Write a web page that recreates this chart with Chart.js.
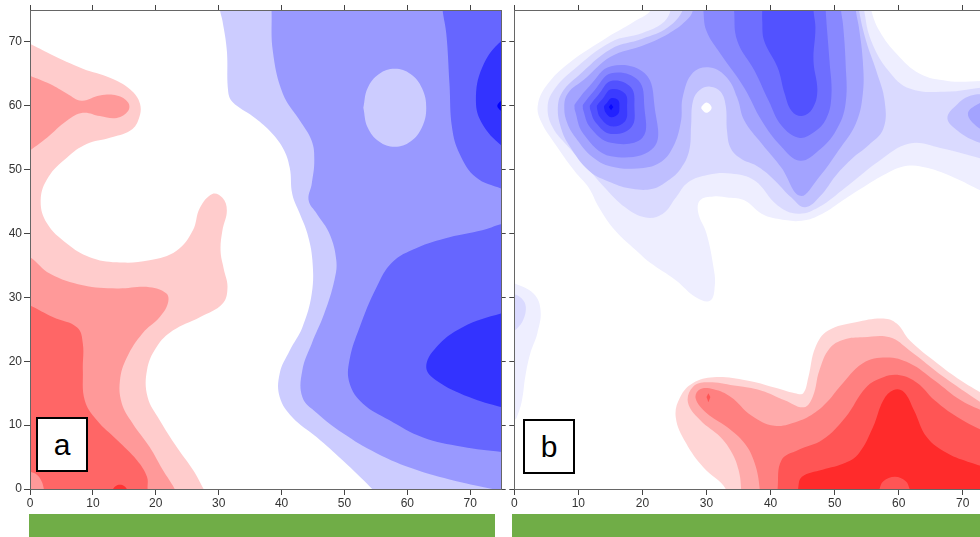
<!DOCTYPE html>
<html lang="fr">
<head>
<meta charset="utf-8">
<title>Contours a / b</title>
<script src="https://cdn.jsdelivr.net/npm/chart.js@4.4.1/dist/chart.umd.min.js"></script>
<style>
  html, body { margin: 0; padding: 0; background: #fff; overflow: hidden; }
  #page { position: relative; width: 980px; height: 537px; overflow: hidden; }
  canvas { position: absolute; top: 0; }
  #chart-a { left: 0; width: 508px; height: 537px; }
  #chart-b { left: 508px; width: 492px; height: 537px; }
  .green-bar { position: absolute; top: 514px; height: 23px; background: #70AD47; }
  .panel-tag { position: absolute; box-sizing: border-box; border: 2px solid #000; background: #fff;
               font: 30px "Liberation Sans", Arial, sans-serif; color: #000;
               display: flex; align-items: center; justify-content: center; z-index: 2; }
</style>
</head>
<body>
<div id="page">
  <canvas id="chart-a" width="508" height="537"></canvas>
  <canvas id="chart-b" width="492" height="537"></canvas>
  <div class="green-bar" style="left:29px;width:466px"></div>
  <div class="green-bar" style="left:512px;width:468px"></div>
  <div class="panel-tag" style="left:36px;top:417px;width:52px;height:55px">a</div>
  <div class="panel-tag" style="left:523px;top:419px;width:52px;height:55px">b</div>
</div>
<script>
// --- DONNÉES : graduations et couleurs ---
const tickValues = [0, 10, 20, 30, 40, 50, 60, 70];
const redA = ['#FFCCCC', '#FF9999', '#FF6666', '#FF3333'];
const blueA = ['#CCCCFF', '#9999FF', '#6666FF', '#3333FF', '#0000FF'];
const redB = ['#FFD5D5', '#FFAAAA', '#FF8080', '#FF5555', '#FF2B2B'];
const blueB = ['#EEEEFF', '#DADAFF', '#BFBFFF', '#A3A3FF', '#8888FF', '#6E6EFF', '#5252FF', '#3B3BFF', '#2222FF', '#0808FF'];

// --- PANNEAU a : contours (x, y) ---
const aRed1 = [[-2,70.5],[0,69.7],[3.2,68.1],[8.4,65.8],[12.7,64.4],[15.9,62.6],[17.5,60.3],[17.2,57.7],[15.9,56.1],[12.7,55.0],[9.0,54.0],[5.9,51.9],[2.9,48.8],[1.7,45.2],[2.7,41.6],[5.9,38.4],[9.5,36.3],[13.8,35.5],[19.0,35.8],[23.3,37.3],[25.9,40.5],[27.0,44.0],[29.0,46.2],[30.6,45.6],[31.3,43.6],[30.6,40.5],[30.3,37.3],[30.8,34.5],[31.4,31.6],[30.6,29.0],[27.0,26.9],[22.7,24.8],[20.1,22.2],[18.6,18.6],[18.7,14.4],[20.6,10.8],[23.3,6.6],[25.9,3.0],[27.6,0],[28.6,-2],[-3,-3],[-2,70.5]];
const aRed2Top = [[-2,65.5],[0,64.7],[3.2,63.4],[5.9,61.9],[8.2,60.8],[11.1,61.6],[13.8,61.6],[15.6,60.5],[15.6,59.2],[13.8,58.1],[11.1,58.4],[8.4,58.9],[5.9,57.7],[2.7,55.0],[0,53.0],[-2,51.5],[-3,58],[-2,65.5]];
const aRed2Bottom = [[-2,37],[0,36.3],[3.2,33.7],[8.4,31.9],[13.8,31.4],[19.0,31.6],[21.7,30.6],[21.9,29.0],[20.6,26.9],[17.9,24.4],[15.4,20.6],[14.3,17.0],[14.6,13.4],[16.3,10.3],[19.0,6.6],[21.1,3.0],[23.0,0],[23.8,-2],[-3,-3],[-2,37]];
const aRed3 = [[-2,29.5],[0,28.75],[3.7,26.9],[7.5,25.3],[8.4,22.8],[8.4,18.6],[8.7,13.9],[10.6,10.8],[13.8,7.7],[17.0,4.5],[18.6,1.9],[18.7,0],[18.9,-2],[-3,-3],[-2,29.5]];
const aRed2Corner = [[-2,3],[0,2.7],[1.0,2.3],[1.8,1.3],[2.2,0],[2.4,-2],[-2,-2],[-2,3]];
const aRed4Spot = [[13.0,-0.5],[13.2,0],[13.6,0.45],[14.3,0.65],[15.0,0.45],[15.4,0],[15.6,-0.5],[13.0,-0.5]];
const aBlue1 = [[30.0,77],[30.2,75],[30.6,73.3],[31.3,68.6],[31.5,62.3],[32.2,60.6],[35.5,58.3],[38.1,56.1],[40.2,53.4],[41.3,50.3],[41.7,46.2],[42.9,43.1],[44.1,40.0],[44.9,35.8],[44.8,30.6],[43.3,25.3],[41.3,21.7],[39.7,18.1],[39.7,14.4],[41.7,11.25],[45.6,8.1],[49.7,4.5],[54.4,0],[55.5,-1.5],[78,-3],[78,78],[30.0,77]];
const aBlue2 = [[38.3,77],[38.4,75],[38.6,68.6],[40.2,61.9],[42.9,57.7],[44.8,54.5],[45.2,51.4],[44.8,47.8],[44.3,45.2],[45.6,43.1],[47.6,40.0],[48.7,35.8],[48.4,32.7],[46.8,27.5],[44.8,22.8],[43.3,18.6],[43.3,14.4],[45.6,11.9],[49.7,8.75],[55.1,5.6],[61.4,3.0],[68.7,1.0],[75,-0.3],[78,-1],[78,78],[38.3,77]];
const aBlue1Island = [[53.0,59.7],[53.67,62.75],[55.5,64.98],[58.0,65.8],[60.5,64.98],[62.33,62.75],[63.0,59.7],[62.33,56.65],[60.5,54.42],[58.0,53.6],[55.5,54.42],[53.67,56.65],[53.0,59.7]];
const aBlue3Top = [[65.5,77],[65.6,75],[66.2,71.2],[66.7,63.4],[67.1,56.6],[68.3,52.5],[70.9,48.8],[75,47.0],[78,46],[78,78],[65.5,77]];
const aBlue3Bottom = [[78,42],[75,41.5],[71.9,40.5],[66.7,39.4],[61.4,37.7],[57.6,35.5],[55.1,31.6],[52.4,25.3],[50.8,20.2],[50.8,16.6],[52.9,13.4],[57.1,10.8],[62.4,8.1],[68.7,6.6],[75,5.8],[78,5.5],[79,24],[78,42]];
const aBlue4Top = [[78,71],[75,70.2],[71.9,66.0],[70.9,60.8],[71.9,57.2],[75,53.75],[78,52],[79,62],[78,71]];
const aBlue4Bottom = [[78,28],[75,27.5],[68.7,25.3],[64.6,22.2],[63.0,19.1],[64.6,17.0],[69.8,14.4],[75,12.8],[78,12.2],[79,20],[78,28]];
const aBlue5Spot = [[76,60.8],[75,60.8],[74.4,60.3],[74.3,60.0],[74.4,59.7],[75,59.2],[76,59.2],[76,60.8]];

// --- PANNEAU b : contours (x, y) ---
const bBlue1 = [[21.0,77],[21.3,75],[18.9,73.3],[13.7,70.2],[8.4,66.6],[5.2,63.4],[3.7,60.3],[4.1,57.7],[6.8,53.4],[9.4,49.8],[11.6,47.2],[13.2,44.1],[15.7,40.5],[19.5,36.9],[21.1,35.5],[25.2,32.7],[28.4,30.0],[30.6,29.5],[31.3,31.9],[31.1,34.7],[30.0,40.0],[28.7,43.3],[29.0,45.2],[31.1,45.8],[33.5,45.6],[35.9,45.2],[38.6,43.1],[41.1,42.3],[44.9,42.0],[48.1,43.1],[51.3,45.2],[54.4,47.2],[58.1,49.4],[61.3,50.6],[64.4,50.3],[68.7,48.75],[72.9,46.7],[75,45.8],[78,44.5],[78,64.5],[75,64.2],[72.9,63.9],[67.6,63.9],[63.3,65.0],[59.7,68.1],[57.0,71.7],[55.7,75],[55.5,77],[21.0,77]];
const bBlue1Strip = [[-2,33],[0,32.2],[3.0,30.6],[4.1,28.0],[3.6,24.4],[2.5,21.25],[1.7,17.5],[1.2,13.9],[0.4,11.25],[0,10.8],[-2,10],[-2,33]];
const bBlue2 = [[24.3,77],[24.4,75],[23.2,73.0],[20.0,71.4],[15.1,70.0],[9.2,65.6],[6.2,62.5],[5.2,59.8],[6.0,56.6],[8.6,53.4],[11.4,50.3],[14.1,47.2],[17.3,44.1],[20.5,42.5],[23.2,43.1],[25.2,45.6],[27.1,48.0],[30.3,49.2],[33.8,49.4],[37.5,48.3],[41.1,44.4],[44.3,43.1],[47.5,44.1],[51.7,47.2],[57.0,51.4],[61.7,54.1],[66.5,53.4],[74.0,51.4],[75,50.9],[78,50],[78,63],[75,63.0],[74,63.0],[67.1,62.2],[61.7,62.7],[58.4,65.5],[55.7,70.2],[54.6,75],[54.5,77],[24.3,77]];
const bBlue2Spot = [[-2,31],[0,30.5],[1.2,29.8],[1.8,28.5],[1.4,26.5],[0.5,25.2],[0,24.8],[-2,24],[-2,31]];
const bWhiteDot = [[29.2,59.7],[29.21,59.85],[30.0,60.5],[30.8,59.7],[30.0,58.9],[29.21,59.55],[29.2,59.7]];
const bBlue3 = [[26.2,77],[26.3,75],[24.0,72.3],[20.0,70.5],[15.1,68.9],[10.0,64.7],[7.6,62.3],[6.8,59.8],[7.3,56.5],[8.7,53.6],[11.7,49.8],[15.1,48.0],[18.4,47.0],[21.6,47.0],[24.0,48.3],[26.0,50.2],[27.3,53.0],[27.6,56.9],[27.9,60.8],[29.0,62.5],[30.6,63.0],[32.2,62.2],[33.0,60.0],[33.2,56.1],[33.8,53.3],[35.4,51.7],[37.8,50.6],[40.2,48.75],[43.3,45.6],[45.4,44.1],[47.8,45.9],[50.2,49.1],[52.9,51.9],[55.2,53.75],[57.6,56.4],[57.8,60.8],[56.5,65.5],[54.9,70.2],[53.8,75],[53.7,77],[26.2,77]];
const bBlue3Right = [[78,62.5],[75,62.0],[74,61.9],[71.3,61.6],[69.2,60.3],[67.6,58.1],[69.2,56.1],[71.9,54.5],[74,54.0],[75,53.8],[78,53.5],[79,58],[78,62.5]];
const bBlue4 = [[27.8,77],[27.9,75],[26.8,73.3],[24.0,71.25],[20.0,69.4],[15.1,67.7],[10.9,64.1],[8.4,62.0],[7.8,59.8],[8.3,57.2],[9.8,54.7],[12.2,52.0],[15.1,50.5],[19.2,50.2],[22.7,51.1],[24.8,53.6],[26.0,57.5],[26.3,61.4],[27.9,65.2],[30.6,66.0],[33.2,64.4],[34.8,61.25],[35.9,57.7],[38.6,54.1],[41.7,50.3],[44.6,45.9],[47.5,48.75],[50.6,53.0],[53.3,57.2],[54.4,61.9],[54.4,67.0],[53.8,72.2],[53.3,75],[53.2,77],[27.8,77]];
const bBlue4Right = [[78,61],[75,60.6],[74,60.5],[72.4,60.3],[70.8,58.75],[72.4,56.6],[74,56.1],[75,55.8],[78,55.5],[79,58],[78,61]];
const bBlue5Left = [[9.4,59.8],[9.43,60.2],[11.75,63.1],[15.1,66.2],[20.4,65.05],[21.9,59.8],[21.8,53.5],[15.1,52.1],[10.8,55.6],[9.43,59.4],[9.4,59.8]];
const bBlue5Top = [[29.4,77],[29.5,75],[30.0,71.7],[32.2,68.1],[35.9,62.8],[38.6,57.7],[41.7,53.6],[44.6,51.4],[47.5,53.0],[50.2,56.1],[51.7,60.3],[51.7,67.0],[51.3,72.8],[51.0,75],[51.0,77],[29.4,77]];
const bBlue5Right = [[78,60.5],[75,59.8],[74.2,58.7],[75,57.5],[78,57],[78,60.5]];
const bBlue6Left = [[10.7,59.8],[10.72,60.15],[12.5,62.4],[15.1,65.1],[19.35,64.0],[20.3,59.8],[20.0,55.0],[15.1,54.2],[11.85,56.6],[10.72,59.45],[10.7,59.8]];
const bBlue6Top = [[34.2,77],[34.3,75],[34.8,70.2],[37.5,65.5],[39.7,60.8],[41.7,56.9],[44.4,55.0],[46.7,55.8],[48.7,58.0],[49.5,61.6],[49.2,67.0],[48.6,75],[48.6,77],[34.2,77]];
const bBlue7Left = [[11.8,59.8],[11.82,60.1],[13.1,61.7],[15.1,63.9],[18.2,62.9],[18.75,59.8],[18.3,56.7],[15.1,55.6],[12.7,57.4],[11.82,59.5],[11.8,59.8]];
const bBlue7Top = [[38.7,77],[38.7,75],[38.7,73.3],[39.0,70.2],[41.1,66.0],[42.2,61.9],[43.3,59.2],[44.9,58.4],[46.5,59.5],[47.3,62.3],[46.7,67.0],[47.0,72.2],[46.7,75],[46.7,77],[38.7,77]];
const bBlue8 = [[12.9,59.8],[12.91,60.05],[13.8,61.1],[15.1,62.6],[17.3,61.9],[17.6,59.8],[17.3,57.6],[15.1,56.8],[13.4,58.15],[12.91,59.55],[12.9,59.8]];
const bBlue9 = [[14.0,59.8],[14.01,59.95],[14.45,60.45],[15.1,61.2],[16.2,60.9],[16.4,59.8],[16.2,58.7],[15.1,58.2],[14.25,58.95],[14.01,59.65],[14.0,59.8]];
const bBlue10 = [[14.75,59.8],[15.1,60.3],[15.45,59.8],[15.1,59.3],[14.75,59.8]];
const bRed1 = [[32.6,-2],[33.0,0],[29.5,3.4],[26.8,7.2],[25.2,11.25],[25.9,14.4],[27.9,16.6],[31.1,17.5],[36.3,17.0],[40.6,15.9],[43.8,15.0],[45.1,15.0],[45.9,17.5],[47.0,22.2],[49.0,24.8],[53.3,26.1],[57.6,26.7],[59.7,25.9],[61.7,23.3],[66.0,19.7],[69.7,17.0],[74.0,14.4],[75,13.75],[78,12],[78,-2],[32.6,-2]];
const bRed2 = [[35.2,-2],[35.4,0],[35.0,3.0],[34.0,5.6],[32.2,8.1],[29.0,10.8],[27.1,13.6],[27.9,16.0],[30.0,16.7],[34.3,16.2],[38.6,15.4],[42.2,13.9],[45.2,12.8],[46.6,14.5],[47.6,18.5],[49.2,22.0],[51.5,23.4],[54.4,23.75],[58.6,23.75],[61.7,21.7],[67.1,17.5],[74.0,12.8],[75,12.3],[78,11],[78,-2],[35.2,-2]];
const bRed3 = [[38.1,-2],[38.3,0],[37.5,4.1],[35.9,7.2],[33.2,9.7],[30.0,11.9],[28.3,14.2],[29.0,15.6],[31.1,15.6],[33.8,14.4],[37.0,11.5],[40.6,9.9],[44.3,10.6],[47.0,12.0],[49.0,13.8],[50.8,16.0],[54.4,19.7],[58.1,20.6],[61.7,19.7],[65.6,17.0],[69.7,13.9],[74.0,11.9],[75,11.6],[78,11],[78,-2],[38.1,-2]];
const bRed4 = [[41.0,-2],[41.1,0],[41.7,4.5],[44.3,6.1],[48.1,7.7],[51.7,11.25],[54.9,15.9],[57.6,17.5],[60.2,17.8],[62.9,16.6],[65.6,13.9],[69.2,11.25],[74.0,8.75],[75,8.5],[78,8],[78,-2],[41.0,-2]];
const bRed5 = [[44.2,-2],[44.3,0],[44.9,1.9],[48.1,3.0],[51.7,4.1],[53.8,5.6],[56.0,9.7],[57.6,13.9],[59.2,15.5],[60.8,15.2],[62.4,12.3],[64.4,8.1],[67.6,5.6],[71.3,4.1],[74.0,3.3],[75,3.1],[78,3],[78,-2],[44.2,-2]];
const bRed4Spot = [[56.8,-1],[57.0,0],[57.6,1.2],[59.4,1.9],[61.1,1.2],[61.7,0],[61.9,-1],[56.8,-1]];
const bRed4Dot = [[30.0,14.4],[30.3,15.0],[30.6,14.4],[30.3,13.6],[30.0,14.4]];

// --- CALQUES (du dessous vers le dessus) ---
const layersA = [
    [aRed1, redA[0]], [aRed2Top, redA[1]], [aRed2Bottom, redA[1]], [aRed3, redA[2]],
    [aRed2Corner, redA[1]], [aRed4Spot, redA[3]],
    [aBlue1, blueA[0]], [aBlue2, blueA[1]], [aBlue1Island, blueA[0]],
    [aBlue3Top, blueA[2]], [aBlue3Bottom, blueA[2]], [aBlue4Top, blueA[3]], [aBlue4Bottom, blueA[3]],
    [aBlue5Spot, blueA[4]]
];
const layersB = [
    [bBlue1, blueB[0]], [bBlue1Strip, blueB[0]], [bBlue2, blueB[1]], [bBlue2Spot, blueB[1]],
    [bWhiteDot, '#FFFFFF'], [bBlue3, blueB[2]], [bBlue3Right, blueB[2]],
    [bBlue4, blueB[3]], [bBlue4Right, blueB[3]],
    [bBlue5Left, blueB[4]], [bBlue5Top, blueB[4]], [bBlue5Right, blueB[4]],
    [bBlue6Left, blueB[5]], [bBlue6Top, blueB[5]],
    [bBlue7Left, blueB[6]], [bBlue7Top, blueB[6]],
    [bBlue8, blueB[7]], [bBlue9, blueB[8]], [bBlue10, blueB[9], 0],
    [bRed1, redB[0]], [bRed2, redB[1]], [bRed3, redB[2]], [bRed4, redB[3]], [bRed5, redB[4]],
    [bRed4Spot, redB[3]], [bRed4Dot, redB[3], 0]
];

// --- AXES ---
const tickFont = { family: '"Liberation Sans", Arial, sans-serif', size: 12 };

function makeScales(frame) {
    const common = {
        type: 'linear', min: 0, max: 75,
        afterBuildTicks: s => { s.ticks = tickValues.map(v => ({ value: v })); },
        border: { color: '#666', width: 1, z: 1 }
    };
    const gridOpts = len => ({ drawOnChartArea: false, drawTicks: true, tickLength: len, color: '#444', z: 1 });
    return {
        x: { ...common, axis: 'x', position: 'bottom',
             ticks: { color: '#333', font: tickFont, padding: 1, maxRotation: 0, autoSkip: false, z: 1 },
             grid: gridOpts(6),
             afterFit: s => { s.height = frame.bottom; } },
        x2: { ...common, axis: 'x', position: 'top',
              ticks: { display: false }, grid: gridOpts(5),
              afterFit: s => { s.height = frame.top; } },
        y: { ...common, axis: 'y', position: 'left',
             ticks: { display: frame.yLabels, color: '#333', font: tickFont, padding: 2, autoSkip: false, z: 1 },
             grid: gridOpts(frame.leftTick),
             afterFit: s => { s.width = frame.left; } },
        y2: { ...common, axis: 'y', position: 'right',
              ticks: { display: false }, grid: gridOpts(4),
              afterFit: s => { s.width = frame.right; } }
    };
}

// --- CONSTRUCTION D'UN PANNEAU ---
function buildPanel(canvasId, layers, frame) {
    // Chart.js dessine le premier dataset au-dessus : on inverse l'ordre
    const datasets = layers.slice().reverse().map(([pts, color, tension]) => ({
        data: pts.map(([x, y]) => ({ x, y })),
        backgroundColor: color,
        borderWidth: 0,
        pointRadius: 0,
        fill: 'shape',
        tension: tension === undefined ? 0.4 : tension
    }));

    return new Chart(document.getElementById(canvasId), {
        type: 'line',
        data: { datasets },
        options: {
            responsive: false,
            animation: false,
            devicePixelRatio: 1,
            events: [],
            layout: { padding: 0 },
            elements: { line: { capBezierPoints: false } },
            plugins: { legend: { display: false }, tooltip: { enabled: false } },
            scales: makeScales(frame)
        }
    });
}

buildPanel('chart-a', layersA, { left: 30, right: 6.3, top: 10, bottom: 48, yLabels: true, leftTick: 6 });
buildPanel('chart-b', layersB, { left: 6.3, right: 5.2, top: 10, bottom: 48, yLabels: false, leftTick: 5 });
</script>
</body>
</html>
